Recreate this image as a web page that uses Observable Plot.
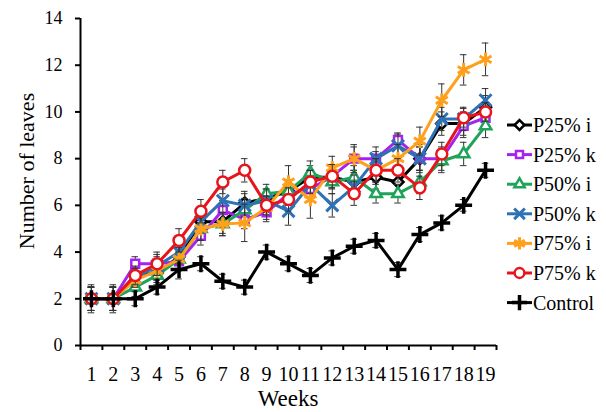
<!DOCTYPE html>
<html><head><meta charset="utf-8">
<script src="https://cdn.jsdelivr.net/npm/d3@7"></script>
<script src="https://cdn.jsdelivr.net/npm/@observablehq/plot@0.6"></script>
<style>
body{margin:0;background:#fff}
#chart svg, #chart svg text{font-family:'Liberation Serif','Times New Roman','DejaVu Serif',serif;}
</style>
</head><body><div id="chart"></div>
<script>
const weeks = [1,2,3,4,5,6,7,8,9,10,11,12,13,14,15,16,17,18,19];
const yTicks = [0,2,4,6,8,10,12,14];
const seriesNames = ["P25% i","P25% k","P50% i","P50% k","P75% i","P75% k","Control"];

const p25i = [2,2,3.0,3.1,3.8,5.3,5.3,6.1,6.3,6.6,7.2,7.2,7.0,7.2,7.0,8.0,9.5,9.5,10.2];
const p25k = [2,2,3.5,3.5,3.6,4.7,5.8,5.4,5.7,6.5,6.7,7.25,8.0,8.0,8.8,8.0,8.0,9.4,9.75];
const p50i = [2,2,2.5,3.0,3.7,5.0,5.2,5.8,6.5,6.6,7.4,7.0,7.2,6.5,6.5,7.0,7.9,8.2,9.4];
const p50k = [2,2,2.9,3.4,4.0,5.3,6.2,6.0,6.2,5.75,6.9,6.0,6.8,8.0,8.55,8.0,9.7,9.7,10.5];
const p75i = [2,2,2.8,3.2,3.7,5.0,5.2,5.25,5.9,7.0,6.25,7.6,8.0,7.5,8.0,8.75,10.5,11.8,12.25];
const p75k = [2,2,3.0,3.5,4.5,5.75,7.0,7.5,6.0,6.25,7.0,7.25,6.5,7.5,7.5,6.75,8.2,9.75,10.0];
const control = [2,2,2,2.5,3.25,3.5,2.75,2.5,4.0,3.5,3.0,3.75,4.25,4.5,3.25,4.75,5.25,6.0,7.5];

const p25iErr = [0.5,0.5,0.4,0.4,0.5,0.5,0.5,0.5,0.4,0.5,0.5,0.5,0.5,0.5,0.5,0.5,0.5,0.5,0.5];
const p25kErr = [0.5,0.5,0.3,0.4,0.4,0.4,0.4,0.4,0.4,0.5,0.5,0.5,0.5,0.3,0.3,0.5,0.5,0.5,0.5];
const p50iErr = [0.5,0.5,0.4,0.4,0.4,0.5,0.5,0.5,0.4,0.5,0.5,0.5,0.5,0.4,0.4,0.5,0.5,0.5,0.5];
const p50kErr = [0.5,0.5,0.4,0.4,0.5,0.5,0.5,0.5,0.5,0.6,0.6,0.5,0.5,0.5,0.5,0.6,0.5,0.5,0.5];
const p75iErr = [0.5,0.5,0.3,0.4,0.5,0.5,0.5,0.8,0.5,0.7,0.8,0.5,0.6,0.5,0.6,0.6,0.7,0.65,0.7];
const p75kErr = [0.5,0.5,0.4,0.5,0.5,0.5,0.5,0.5,0.4,0.5,0.5,0.5,0.5,0.5,0.5,0.5,0.5,0.4,0.4];
const controlErr = [0.6,0.6,0.3,0.3,0.4,0.3,0.3,0.3,0.3,0.3,0.3,0.3,0.3,0.3,0.3,0.3,0.3,0.25,0.3];

const seriesValues = [p25i,p25k,p50i,p50k,p75i,p75k,control];
const seriesErrors = [p25iErr,p25kErr,p50iErr,p50kErr,p75iErr,p75kErr,controlErr];
const colors = ["#000000","#a623ee","#1fa35a","#2e72b5","#ffa01c","#e8141c","#000000"];
const symbols = ["diamond2","square2","triangle2","times","asterisk","circle","plus"];
const radii = [5,5,5.5,5.5,6.5,5.5,5.5];
const strokeW = [2.5,2.5,2.5,3,3,2.5,3.5];

const fontChain = "Liberation Serif, Times New Roman, DejaVu Serif, Noto Serif, serif";

const seriesMarks = [];
seriesNames.forEach((name, si) => {
  const rows = weeks.map((w, i) => ({series: name, week: w, value: seriesValues[si][i], err: seriesErrors[si][i]}));
  seriesMarks.push(
    Plot.ruleX(rows, {x: "week", y1: d => d.value - d.err, y2: d => d.value + d.err, stroke: "#333", strokeWidth: 1}),
    Plot.ruleY(rows, {y: d => d.value + d.err, x1: d => d.week - 0.15, x2: d => d.week + 0.15, stroke: "#333", strokeWidth: 1}),
    Plot.ruleY(rows, {y: d => d.value - d.err, x1: d => d.week - 0.15, x2: d => d.week + 0.15, stroke: "#333", strokeWidth: 1}),
    Plot.line(rows, {x: "week", y: "value", stroke: colors[si], strokeWidth: 3}),
    Plot.dot(rows, {x: "week", y: "value", symbol: () => symbols[si], stroke: colors[si], fill: "white", r: radii[si], strokeWidth: strokeW[si]})
  );
});

const boundaries = d3.range(0.5, 20, 1);

const chart = Plot.plot({
  width: 606, height: 412,
  marginLeft: 80, marginRight: 110, marginTop: 18, marginBottom: 67,
  style: {fontFamily: fontChain, background: "white", color: "black", overflow: "visible"},
  x: {domain: [0.5, 19.5], axis: null},
  y: {domain: [0, 14], axis: null},
  symbol: {type: "identity"},
  marks: [
    Plot.axisY({ticks: yTicks, tickSize: 5, tickPadding: 13, fontSize: 18, label: null, strokeWidth: 2}),
    Plot.axisX({ticks: boundaries, tickSize: 5, tickFormat: () => "", label: null, strokeWidth: 2}),
    Plot.axisX({ticks: weeks, tickSize: 0, tickPadding: 21, fontSize: 20, tickFormat: d => String(d), label: null}),
    Plot.ruleX([0.5], {stroke: "black", strokeWidth: 2}),
    Plot.ruleY([0], {stroke: "black", strokeWidth: 2}),
    ...seriesMarks
  ]
});

const svg = d3.select(chart);
svg.append("text")
  .attr("transform", "translate(34,171) rotate(-90)")
  .attr("text-anchor", "middle")
  .attr("font-size", 22).attr("fill", "black")
  .text("Number of leaves");
svg.append("text")
  .attr("x", 288).attr("y", 406)
  .attr("text-anchor", "middle")
  .attr("font-size", 23).attr("fill", "black")
  .text("Weeks");

const symbolTypes = {diamond2: d3.symbolDiamond2, square2: d3.symbolSquare2, triangle2: d3.symbolTriangle2, times: d3.symbolTimes, asterisk: d3.symbolAsterisk, circle: d3.symbolCircle, plus: d3.symbolPlus};
const legend = svg.append("g");
seriesNames.forEach((name, si) => {
  const cy = 125 + si * 29.6;
  const g = legend.append("g");
  g.append("line").attr("x1", 507).attr("x2", 532).attr("y1", cy).attr("y2", cy)
    .attr("stroke", colors[si]).attr("stroke-width", 3);
  g.append("path")
    .attr("d", d3.symbol().type(symbolTypes[symbols[si]]).size(Math.PI * radii[si] * radii[si] * 0.8)())
    .attr("transform", `translate(519.5,${cy})`)
    .attr("fill", "white").attr("stroke", colors[si]).attr("stroke-width", strokeW[si]);
  g.append("text").attr("x", 533).attr("y", cy).attr("dy", "0.35em")
    .attr("text-anchor", "start")
    .attr("font-size", 20).attr("fill", "black")
    .text(name);
});

svg.attr("font-family", fontChain);
svg.selectAll("text").attr("font-family", fontChain);
svg.selectAll("g").attr("font-family", fontChain);

document.getElementById("chart").appendChild(chart);
</script>
</body></html>
